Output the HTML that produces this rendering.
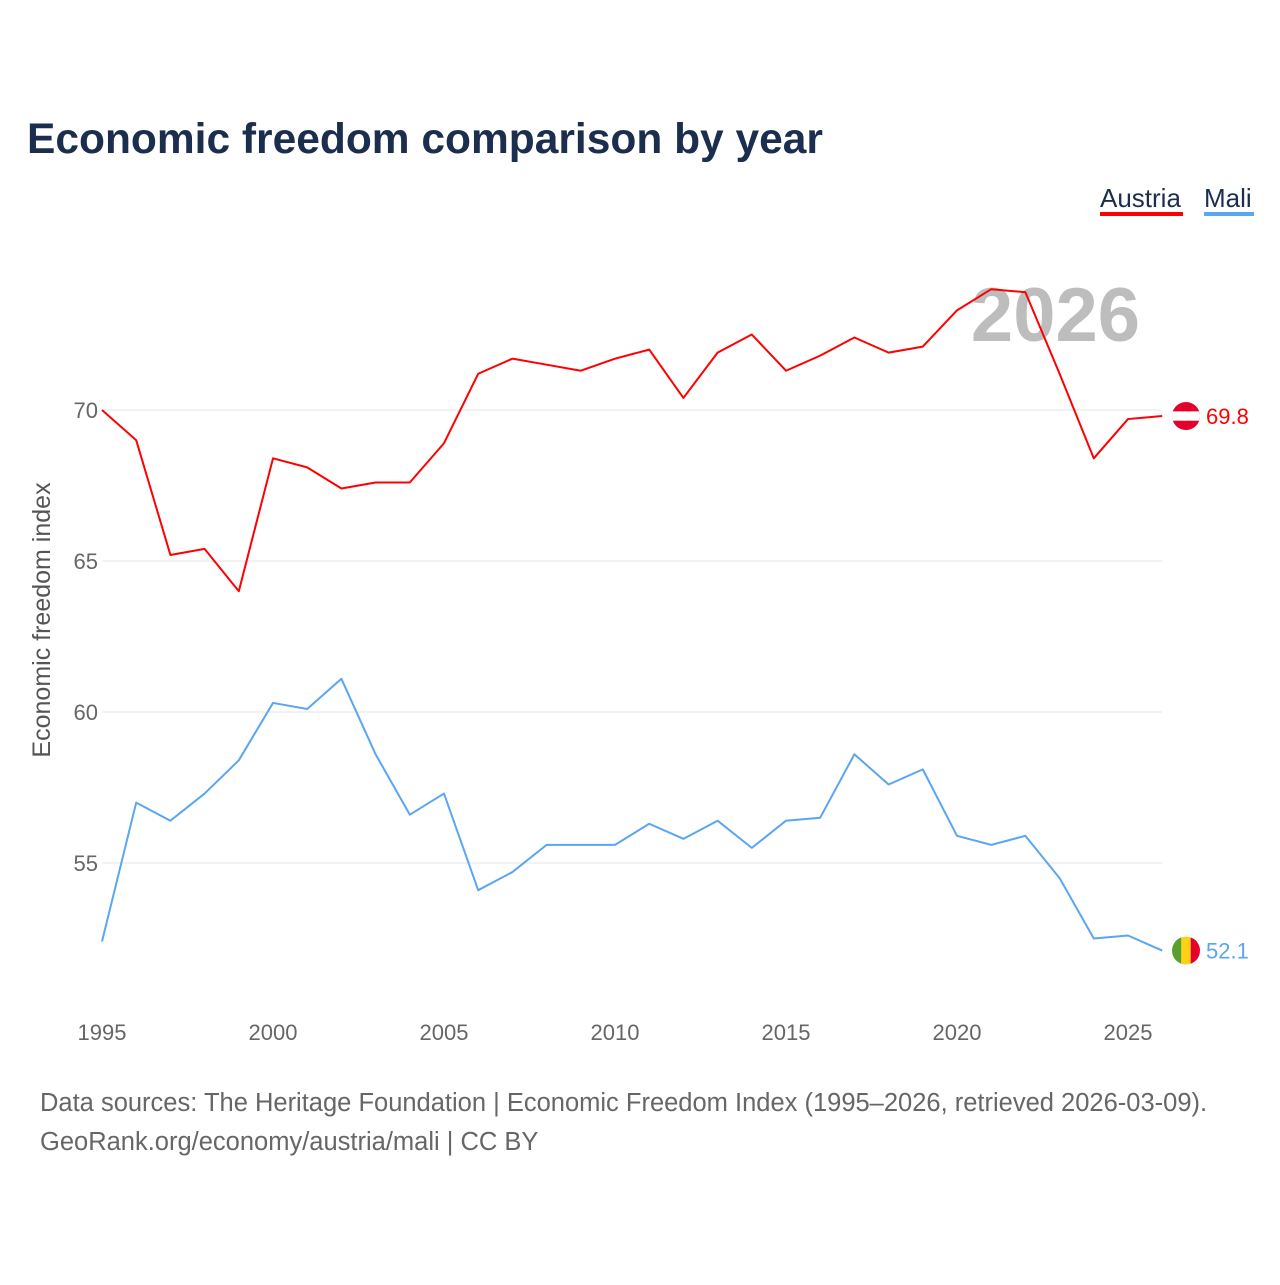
<!DOCTYPE html>
<html><head><meta charset="utf-8">
<style>
html,body{margin:0;padding:0;background:#fff;}
body{width:1280px;height:1280px;overflow:hidden;font-family:"Liberation Sans",sans-serif;}
</style></head>
<body>
<svg id="chart" width="1280" height="1280" xmlns="http://www.w3.org/2000/svg" font-family="Liberation Sans, sans-serif">
<text x="27" y="153" font-size="42.5" font-weight="bold" fill="#1b2e4e">Economic freedom comparison by year</text>
<g>
<text x="1100" y="207" font-size="26" fill="#1b2e4e">Austria</text>
<rect x="1100" y="212" width="83" height="4" fill="#ff0000"/>
</g>
<g>
<text x="1204" y="207" font-size="26" fill="#1b2e4e">Mali</text>
<rect x="1204" y="212" width="50" height="4" fill="#5aa6f0"/>
</g>
<text x="1140" y="341" text-anchor="end" font-size="76" font-weight="bold" fill="#bdbdbd">2026</text>
<text transform="translate(50,620) rotate(-90)" text-anchor="middle" font-size="25" fill="#555">Economic freedom index</text>
<g id="grid"></g><g id="xt"></g><g id="lines"></g>
<text x="40" y="1111" font-size="25.5" fill="#666">Data sources: The Heritage Foundation | Economic Freedom Index (1995–2026, retrieved 2026-03-09).</text>
<text x="40" y="1150" font-size="25.5" fill="#666">GeoRank.org/economy/austria/mali | CC BY</text>
</svg>
<script>
const years=[1995,1996,1997,1998,1999,2000,2001,2002,2003,2004,2005,2006,2007,2008,2009,2010,2011,2012,2013,2014,2015,2016,2017,2018,2019,2020,2021,2022,2023,2024,2025,2026];
const austria=[70.0,69.0,65.2,65.4,64.0,68.4,68.1,67.4,67.6,67.6,68.9,71.2,71.7,71.5,71.3,71.7,72.0,70.4,71.9,72.5,71.3,71.8,72.4,71.9,72.1,73.3,74.0,73.9,71.2,68.4,69.7,69.8];
const mali=[52.4,57.0,56.4,57.3,58.4,60.3,60.1,61.1,58.6,56.6,57.3,54.1,54.7,55.6,55.6,55.6,56.3,55.8,56.4,55.5,56.4,56.5,58.6,57.6,58.1,55.9,55.6,55.9,54.5,52.5,52.6,52.1];
const yTicks=[55,60,65,70];
const xTicks=[1995,2000,2005,2010,2015,2020,2025];
const NS="http://www.w3.org/2000/svg";
const X=y=>102+(y-1995)*34.2;
const Y=v=>410+(70-v)*30.2;
function mk(t,a,p){const e=document.createElementNS(NS,t);for(const k in a)e.setAttribute(k,a[k]);p.appendChild(e);return e;}
const grid=document.getElementById('grid');
yTicks.forEach(v=>{
const l=mk('line',{x1:102,x2:1162,y1:Y(v),y2:Y(v),stroke:'#e6e6e6','stroke-width':1},grid);


const t=mk('text',{x:98,y:Y(v)+8,'text-anchor':'end','font-size':22,fill:'#666'},grid);t.textContent=v;


});
const xt=document.getElementById('xt');
xTicks.forEach(v=>{
const t=mk('text',{x:X(v),y:1040,'text-anchor':'middle','font-size':22,fill:'#666'},xt);t.textContent=v;


});
const lines=document.getElementById('lines');
function series(vals,color,name){
const p=mk('polyline',{points:vals.map((v,i)=>X(years[i])+','+Y(v)).join(' '),fill:'none',stroke:color,'stroke-width':2,'stroke-linejoin':'round'},lines);


const last=vals[vals.length-1];
const t=mk('text',{x:1206,y:Y(last)+8,'font-size':22,fill:color},lines);t.textContent=last.toFixed(1);


return Y(last);
}
const ya=series(austria,'#ff0000','austria');
const ym=series(mali,'#5aa6f0','mali');
const cx=1186,r=14;
const defs=mk('defs',{},lines);
const c1=mk('clipPath',{id:'ca'},defs);mk('circle',{cx:cx,cy:ya,r:r},c1);
const c2=mk('clipPath',{id:'cm'},defs);mk('circle',{cx:cx,cy:ym,r:r},c2);
const fa=mk('g',{'clip-path':'url(#ca)'},lines);


mk('rect',{x:cx-r,y:ya-r,width:2*r,height:2*r,fill:'#e4002b'},fa);
mk('rect',{x:cx-r,y:ya-r/3,width:2*r,height:2*r/3,fill:'#fff'},fa);
const fm=mk('g',{'clip-path':'url(#cm)'},lines);


mk('rect',{x:cx-r,y:ym-r,width:2*r/3,height:2*r,fill:'#5aa02c'},fm);
mk('rect',{x:cx-r/3,y:ym-r,width:2*r/3,height:2*r,fill:'#fcd116'},fm);
mk('rect',{x:cx+r/3,y:ym-r,width:2*r/3,height:2*r,fill:'#e4002b'},fm);
</script>
</body></html>
